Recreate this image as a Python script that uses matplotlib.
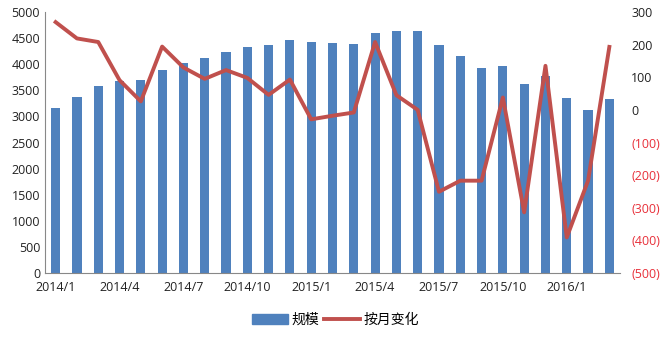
import numpy as np
import matplotlib.pyplot as plt
from matplotlib.patches import Patch
from matplotlib.lines import Line2D

plt.rcParams['font.family'] = ['Open Sans', 'Noto Sans CJK SC', 'DejaVu Sans']

# Monthly data, 2014/1 - 2016/3
months = ['2014/1', '2014/2', '2014/3', '2014/4', '2014/5', '2014/6', '2014/7', '2014/8', '2014/9',
          '2014/10', '2014/11', '2014/12', '2015/1', '2015/2', '2015/3', '2015/4', '2015/5', '2015/6',
          '2015/7', '2015/8', '2015/9', '2015/10', '2015/11', '2015/12', '2016/1', '2016/2', '2016/3']
scale = [3170, 3380, 3590, 3670, 3695, 3880, 4015, 4110, 4225, 4320, 4360, 4455, 4420, 4400,
         4380, 4590, 4630, 4630, 4360, 4150, 3920, 3960, 3630, 3765, 3360, 3130, 3325]
monthly_change = [269, 219, 208, 91, 26, 194, 130, 95, 122, 98, 46, 93, -29, -18,
                  -8, 208, 45, 0, -251, -217, -217, 38, -314, 135, -391, -217, 193]

bar_color = '#4f81bd'
line_color = '#c0504d'

fig = plt.figure(figsize=(6.71, 3.45), dpi=100)
ax = fig.add_axes([45 / 671, 72 / 345, 575 / 671, 261 / 345])
x = np.arange(len(months))

ax.bar(x, scale, width=0.43, color=bar_color, zorder=2)
ax.set_xlim(-0.5, len(months) - 0.5)
ax.set_ylim(0, 5000)
ax.set_yticks(np.arange(0, 5001, 500))
ax.set_xticks(x[::3])
ax.set_xticklabels(months[::3])
ax.tick_params(axis='both', length=0, labelsize=9, colors='#222222')
ax.tick_params(axis='x', pad=6)
for side in ['top', 'right']:
    ax.spines[side].set_visible(False)
for side in ['left', 'bottom']:
    ax.spines[side].set_color('#888888')

ax2 = ax.twinx()
ax2.plot(x, monthly_change, color=line_color, linewidth=2.8, zorder=3)
ax2.set_ylim(-500, 300)
rticks = np.arange(-500, 301, 100)
ax2.set_yticks(rticks)
ax2.set_yticklabels([f'({-v})' if v < 0 else str(v) for v in rticks])
for lbl, v in zip(ax2.get_yticklabels(), rticks):
    lbl.set_color('#e8303a' if v < 0 else '#222222')
ax2.tick_params(axis='y', length=0, labelsize=9, pad=8)
for side in ['top', 'right', 'left', 'bottom']:
    ax2.spines[side].set_visible(False)

handles = [Patch(color=bar_color), Line2D([], [], color=line_color, linewidth=2.8)]
fig.legend(handles, ['规模', '按月变化'], loc='center', bbox_to_anchor=(0.5, 25 / 345),
           ncol=2, frameon=False, fontsize=10, handlelength=2.6, handletextpad=0.3,
           columnspacing=0.3)

fig.savefig('out.png', dpi=100)
